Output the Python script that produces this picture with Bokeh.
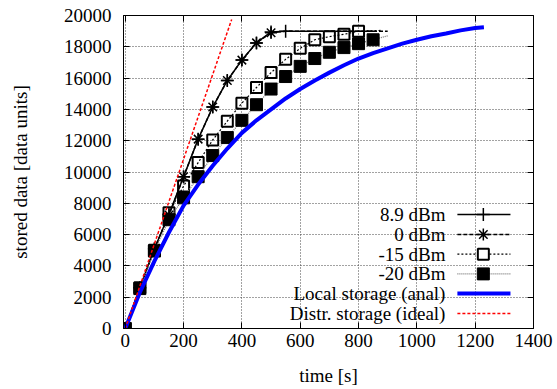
from bokeh.plotting import figure
from bokeh.models import LinearAxis, FixedTicker, Range1d
from bokeh.core.properties import value
from bokeh.embed import file_html
from bokeh.resources import INLINE

# ---------------- data ----------------
t_89 = [0, 50, 100, 150, 200, 250, 300, 350, 400, 450, 500, 550]
d_89 = [0, 2600, 5100, 7300, 9700, 12100, 14150, 15850, 17150, 18250, 18950, 19000]
t_89_tail = [550, 850]
d_89_tail = [19000, 19000]

t_0 = [0, 50, 100, 150, 200, 250, 300, 350, 400, 450, 500]
d_0 = [0, 2600, 5100, 7250, 9700, 12100, 14150, 15850, 17150, 18250, 18900]
t_0_tail = [500, 550, 900]
d_0_tail = [18900, 19000, 19000]

t_15 = [0, 50, 100, 150, 200, 250, 300, 350, 400, 450, 500, 550, 600, 650, 700, 750, 800]
d_15 = [0, 2600, 5000, 7400, 9100, 10600, 12050, 13250, 14400, 15400, 16350, 17200,
        17900, 18450, 18650, 18800, 19000]
t_15_tail = [800, 880]
d_15_tail = [19000, 19050]

t_20 = [0, 50, 100, 150, 200, 250, 300, 350, 400, 450, 500, 550, 600, 650, 700, 750, 800, 850]
d_20 = [0, 2550, 4950, 6950, 8350, 9700, 11050, 12200, 13300, 14300, 15300, 16100,
        16750, 17250, 17650, 17950, 18200, 18450]
t_20_tail = [850, 900]
d_20_tail = [18450, 18700]

t_local = [0, 50, 100, 150, 200, 250, 300, 350, 400, 450, 500, 550, 600, 650, 700, 750,
           800, 850, 900, 950, 1000, 1050, 1100, 1150, 1200, 1230]
d_local = [0, 2300, 4300, 6150, 7850, 9200, 10400, 11500, 12500, 13300, 14000, 14700,
           15300, 15850, 16350, 16820, 17250, 17600, 17900, 18200, 18450, 18670, 18850,
           19050, 19200, 19250]

t_ideal = [0, 365]
d_ideal = [0, 19750]

labels = ["8.9 dBm", "0 dBm", "-15 dBm", "-20 dBm", "Local storage (anal)", "Distr. storage (ideal)"]
x_ticks = [0, 200, 400, 600, 800, 1000, 1200, 1400]
y_ticks = [0, 2000, 4000, 6000, 8000, 10000, 12000, 14000, 16000, 18000, 20000]

FONT = "Liberation Serif"
FS = "19px"

p = figure(width=557, height=389, output_backend="svg", toolbar_location=None,
           x_range=Range1d(-6, 1400), y_range=Range1d(0, 20000),
           min_border_left=123, min_border_right=24, min_border_top=15, min_border_bottom=61)
p.outline_line_color = "black"
p.outline_line_width = 1
p.background_fill_color = "white"
p.border_fill_color = "white"

for ax in (p.xaxis[0], p.yaxis[0]):
    ax.major_tick_in = 6
    ax.major_tick_out = 0
    ax.minor_tick_line_color = None
    ax.major_label_text_font = FONT
    ax.major_label_text_font_size = FS
    ax.major_label_text_color = "black"
    ax.axis_label_text_font = FONT
    ax.axis_label_text_font_size = FS
    ax.axis_label_text_font_style = "normal"
    ax.axis_label_text_color = "black"
    ax.axis_line_color = "black"
p.xaxis.ticker = FixedTicker(ticks=x_ticks)
p.yaxis.ticker = FixedTicker(ticks=y_ticks)
p.xaxis.axis_label = "time [s]"
p.yaxis.axis_label = "stored data [data units]"
p.xaxis.major_label_standoff = 5
p.yaxis.major_label_standoff = 12
p.xaxis.axis_label_standoff = 15
p.yaxis.axis_label_standoff = 30

# mirror ticks
top = LinearAxis(ticker=FixedTicker(ticks=x_ticks), major_label_overrides={v: "" for v in x_ticks},
                 major_tick_in=6, major_tick_out=0, minor_tick_line_color=None,
                 axis_line_color=None, major_label_standoff=0)
right = LinearAxis(ticker=FixedTicker(ticks=y_ticks), major_label_overrides={v: "" for v in y_ticks},
                   major_tick_in=6, major_tick_out=0, minor_tick_line_color=None,
                   axis_line_color=None, major_label_standoff=0)
p.add_layout(top, "above")
p.add_layout(right, "right")

p.xgrid.ticker = FixedTicker(ticks=x_ticks)
p.ygrid.ticker = FixedTicker(ticks=y_ticks)
p.grid.grid_line_color = "#444444"
p.grid.grid_line_dash = "1 2"
p.grid.grid_line_width = 1

# series
p.line(t_89, d_89, line_color="black", line_width=1.5)
p.line(t_89_tail, d_89_tail, line_color="black", line_width=1.5)
p.scatter(t_89, d_89, marker="cross", size=13, line_color="black", line_width=1.5)

p.line(t_0, d_0, line_color="black", line_width=1.5, line_dash="4 2")
p.line(t_0_tail, d_0_tail, line_color="black", line_width=1.5, line_dash="4 2")
p.scatter(t_0, d_0, marker="asterisk", size=12, line_color="black", line_width=1.5)

p.line(t_15, d_15, line_color="black", line_width=1.2, line_dash="2 2")
p.line(t_15_tail, d_15_tail, line_color="black", line_width=1.2, line_dash="2 2")
p.scatter(t_15, d_15, marker="square", size=11, line_color="black", line_width=2,
          fill_color=None)

p.line(t_20, d_20, line_color="#777777", line_width=1.2, line_dash="1 1")
p.line(t_20_tail, d_20_tail, line_color="#777777", line_width=1.2, line_dash="1 1")
p.scatter(t_20, d_20, marker="square", size=12, line_color="black", fill_color="black")

p.line(t_local, d_local, line_color="#0000ff", line_width=4)
p.line(t_ideal, d_ideal, line_color="#ff0000", line_width=1.5, line_dash="3 2")

# legend (gnuplot style: text right-aligned, sample to the right)
leg_rows = [7280, 6010, 4750, 3490, 2230, 960]
leg_tx = 1098
leg_x0, leg_x1, leg_xm = 1139, 1321, 1228
p.text(x=[leg_tx] * 6, y=leg_rows, text=labels, text_align="right", text_baseline="middle",
       text_font=value(FONT), text_font_size=value(FS), text_color="black")
styles = [
    dict(line_color="black", line_width=1.5),
    dict(line_color="black", line_width=1.5, line_dash="4 2"),
    dict(line_color="black", line_width=1.2, line_dash="2 2"),
    dict(line_color="#777777", line_width=1.2, line_dash="1 1"),
    dict(line_color="#0000ff", line_width=4),
    dict(line_color="#ff0000", line_width=1.5, line_dash="3 2"),
]
for yy, st in zip(leg_rows, styles):
    p.line([leg_x0, leg_x1], [yy, yy], **st)
p.scatter([leg_xm], [leg_rows[0]], marker="cross", size=13, line_color="black", line_width=1.5)
p.scatter([leg_xm], [leg_rows[1]], marker="asterisk", size=12, line_color="black", line_width=1.5)
p.scatter([leg_xm], [leg_rows[2]], marker="square", size=11, line_color="black", line_width=2,
          fill_color="white")
p.scatter([leg_xm], [leg_rows[3]], marker="square", size=12, line_color="black", fill_color="black")

open("out.html", "w").write(file_html(p, INLINE))
